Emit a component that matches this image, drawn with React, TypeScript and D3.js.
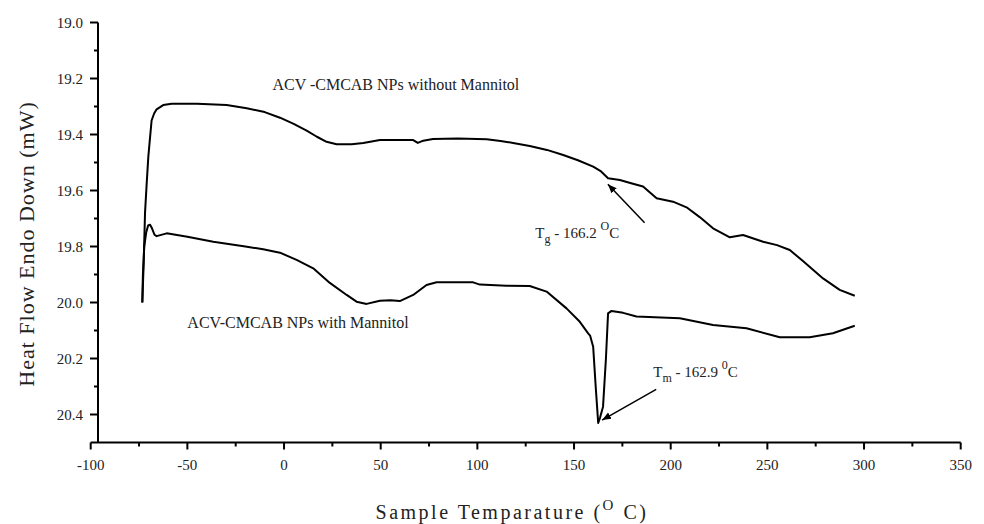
import React, { useEffect, useRef } from "react"
import * as d3 from "d3"

// DSC traces, temperature (°C) vs heat flow (mW)
const withoutTemp = [-73.3, -72.6, -71.9, -71.0, -70.2, -69.3, -68.5, -67.2, -65.9, -62.5, -58.1, -45, -29.7, -19.3, -10, -2.1, 5, 11.7, 17, 22.0, 27.2, 35, 41.0, 49.6, 58, 66.8, 69.2, 72, 77.0, 90, 104.8, 112, 118.5, 127.1, 136, 144.4, 152, 159.9, 164, 167.6, 173.7, 180, 185.7, 192.7, 201.2, 208.2, 215, 221.9, 230.6, 237.4, 247.8, 255, 261.6, 268.4, 278.8, 287.4, 295.2]
const withoutFlow = [20.0, 19.86, 19.68, 19.57, 19.48, 19.41, 19.35, 19.325, 19.31, 19.295, 19.29, 19.29, 19.295, 19.306, 19.32, 19.34, 19.362, 19.386, 19.408, 19.426, 19.435, 19.435, 19.43, 19.42, 19.42, 19.42, 19.43, 19.422, 19.416, 19.414, 19.417, 19.423, 19.43, 19.441, 19.455, 19.473, 19.492, 19.515, 19.532, 19.556, 19.5625, 19.575, 19.586, 19.628, 19.64, 19.66, 19.695, 19.735, 19.767, 19.759, 19.783, 19.795, 19.8125, 19.852, 19.914, 19.955, 19.976]

const withTemp = [-73.3, -73.0, -72.3, -71.3, -70.3, -69.3, -68.3, -67.0, -65.9, -60.7, -50, -36.6, -20, -10.8, -2.1, 6.5, 15.1, 23.7, 32.4, 37.5, 42.7, 49.6, 55, 59.9, 66.8, 73.7, 78.9, 97.8, 101.3, 115, 127.1, 135.8, 146.1, 153.0, 157.3, 158.3, 159.9, 161.2, 162.5, 163.5, 165.0, 166.5, 167.6, 169.4, 175.4, 182.3, 195, 204.7, 221.9, 239.2, 256.4, 271.9, 283.9, 295.2]
const withFlow = [20.0, 19.9, 19.8, 19.75, 19.725, 19.722, 19.735, 19.758, 19.763, 19.753, 19.765, 19.783, 19.8, 19.81, 19.822, 19.848, 19.878, 19.93, 19.973, 19.997, 20.005, 19.994, 19.992, 19.995, 19.973, 19.9375, 19.928, 19.928, 19.936, 19.94, 19.941, 19.961, 20.021, 20.069, 20.11, 20.118, 20.158, 20.3, 20.43, 20.41, 20.372, 20.2, 20.039, 20.03, 20.037, 20.05, 20.054, 20.056, 20.08, 20.092, 20.124, 20.124, 20.11, 20.083]

const xTicks = [-100, -50, 0, 50, 100, 150, 200, 250, 300, 350]
const yTicks = [19.0, 19.2, 19.4, 19.6, 19.8, 20.0, 20.2, 20.4]

const W = 984
const H = 524
const FONT = "'Liberation Serif', 'Times New Roman', serif"

export default function App() {
  const ref = useRef<SVGSVGElement>(null)

  useEffect(() => {
    const svg = d3.select(ref.current)
    svg.selectAll("*").remove()

    const x = d3.scaleLinear().domain([-100, 350]).range([90.7, 960.7])
    const y = d3.scaleLinear().domain([19.0, 20.5]).range([22.5, 442.5])
    const yAxisX = 98

    // x axis
    const xAxis = svg.append("g").attr("transform", `translate(0,${y(20.5)})`)
    xAxis.append("line").attr("x1", x(-100)).attr("x2", x(350)).attr("stroke", "#000").attr("stroke-width", 2)
    const xMinor = d3.range(-75, 350, 50)
    xAxis.selectAll(".xmaj").data(xTicks).enter().append("line")
      .attr("x1", d => x(d)).attr("x2", d => x(d)).attr("y1", 0).attr("y2", 7)
      .attr("stroke", "#000").attr("stroke-width", 2)
    xAxis.selectAll(".xmin").data(xMinor).enter().append("line")
      .attr("x1", d => x(d)).attr("x2", d => x(d)).attr("y1", 0).attr("y2", 4)
      .attr("stroke", "#000").attr("stroke-width", 2)
    xAxis.selectAll(".xlab").data(xTicks).enter().append("text")
      .attr("x", d => x(d)).attr("y", 27).attr("text-anchor", "middle")
      .attr("font-family", FONT).attr("font-size", 15).attr("fill", "#222")
      .text(d => d3.format("d")(d).replace("−", "-"))

    // y axis
    const yAxis = svg.append("g").attr("transform", `translate(${yAxisX},0)`)
    yAxis.append("line").attr("y1", y(19.0)).attr("y2", y(20.5)).attr("stroke", "#000").attr("stroke-width", 2)
    const yMinor = d3.range(19.1, 20.5, 0.2)
    yAxis.selectAll(".ymaj").data(yTicks).enter().append("line")
      .attr("y1", d => y(d)).attr("y2", d => y(d)).attr("x1", 0).attr("x2", -8)
      .attr("stroke", "#000").attr("stroke-width", 2)
    yAxis.selectAll(".ymin").data(yMinor).enter().append("line")
      .attr("y1", d => y(d)).attr("y2", d => y(d)).attr("x1", 0).attr("x2", -4)
      .attr("stroke", "#000").attr("stroke-width", 2)
    yAxis.selectAll(".ylab").data(yTicks).enter().append("text")
      .attr("x", -15).attr("y", d => y(d)).attr("dy", "0.35em").attr("text-anchor", "end")
      .attr("font-family", FONT).attr("font-size", 15).attr("fill", "#222")
      .text(d => d3.format(".1f")(d))

    // axis titles
    svg.append("text")
      .attr("transform", `translate(34,244) rotate(-90)`)
      .attr("text-anchor", "middle").attr("font-family", FONT).attr("font-size", 22)
      .attr("letter-spacing", 1).attr("fill", "#222")
      .text("Heat Flow Endo Down (mW)")

    const xt = svg.append("text")
      .attr("x", 512).attr("y", 519).attr("text-anchor", "middle")
      .attr("font-family", FONT).attr("font-size", 20).attr("letter-spacing", 2.5).attr("fill", "#222")
    xt.append("tspan").text("Sample Temparature (")
    xt.append("tspan").attr("font-size", 15).attr("dy", -9).text("O")
    xt.append("tspan").attr("dy", 9).text(" C)")

    // curves
    const line = d3.line<number>().x(d => x(d[0])).y(d => y(d[1]))
    const series = [
      withoutTemp.map((t, i) => [t, withoutFlow[i]]),
      withTemp.map((t, i) => [t, withFlow[i]])
    ]
    svg.selectAll(".curve").data(series).enter().append("path")
      .attr("d", d => line(d as any))
      .attr("fill", "none").attr("stroke", "#000").attr("stroke-width", 2).attr("stroke-linejoin", "round")

    // labels
    svg.append("text").attr("x", x(-6)).attr("y", y(19.24)).attr("font-family", FONT).attr("font-size", 16)
      .attr("fill", "#222").text("ACV -CMCAB NPs without Mannitol")
    svg.append("text").attr("x", x(-50)).attr("y", y(20.09)).attr("font-family", FONT).attr("font-size", 16)
      .attr("fill", "#222").text("ACV-CMCAB NPs with Mannitol")

    // arrow marker
    svg.append("defs").append("marker").attr("id", "arr").attr("viewBox", "0 0 10 10")
      .attr("refX", 10).attr("refY", 5).attr("markerWidth", 9).attr("markerHeight", 9)
      .attr("markerUnits", "userSpaceOnUse").attr("orient", "auto")
      .append("path").attr("d", "M0,1 L10,5 L0,9 z").attr("fill", "#000")

    // Tg annotation
    svg.append("line").attr("x1", x(186.5)).attr("y1", y(19.715)).attr("x2", x(167.5)).attr("y2", y(19.578))
      .attr("stroke", "#000").attr("stroke-width", 1.5).attr("marker-end", "url(#arr)")
    const tg = svg.append("text").attr("x", x(130)).attr("y", y(19.77)).attr("font-family", FONT)
      .attr("font-size", 15).attr("fill", "#222")
    tg.append("tspan").text("T")
    tg.append("tspan").attr("font-size", 12).attr("dy", 5).text("g")
    tg.append("tspan").attr("dy", -5).text(" - 166.2 ")
    tg.append("tspan").attr("font-size", 12).attr("dy", -8).text("O")
    tg.append("tspan").attr("dy", 8).text("C")

    // Tm annotation
    svg.append("line").attr("x1", x(192.5)).attr("y1", y(20.31)).attr("x2", x(164.5)).attr("y2", y(20.42))
      .attr("stroke", "#000").attr("stroke-width", 1.5).attr("marker-end", "url(#arr)")
    const tm = svg.append("text").attr("x", x(191)).attr("y", y(20.265)).attr("font-family", FONT)
      .attr("font-size", 15).attr("fill", "#222")
    tm.append("tspan").text("T")
    tm.append("tspan").attr("font-size", 12).attr("dy", 5).text("m")
    tm.append("tspan").attr("dy", -5).text(" - 162.9 ")
    tm.append("tspan").attr("font-size", 12).attr("dy", -8).text("0")
    tm.append("tspan").attr("dy", 8).text("C")
  }, [])

  return (
    <svg ref={ref} width={W} height={H} style={{ position: "absolute", left: 0, top: 0, background: "#fff" }} />
  )
}
